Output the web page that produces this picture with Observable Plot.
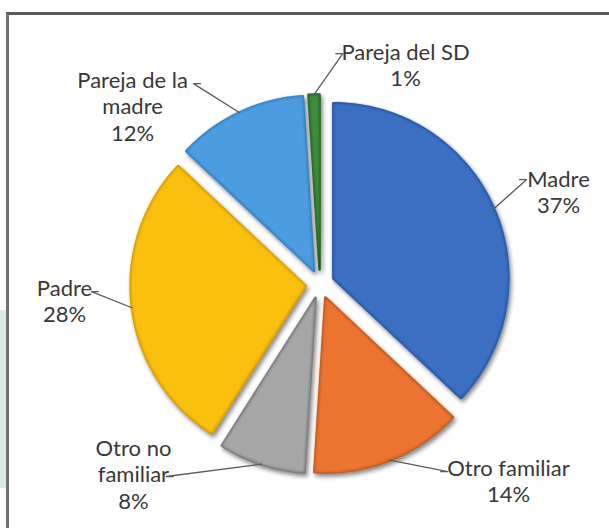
<!DOCTYPE html>
<html><head><meta charset="utf-8">
<script src="https://cdn.jsdelivr.net/npm/d3@7"></script>
<script src="https://cdn.jsdelivr.net/npm/@observablehq/plot@0.6"></script>
<style>
body{margin:0;background:#fff;}
#wrap{position:relative;width:609px;height:528px;overflow:hidden;}
#teal{position:absolute;left:0;top:310px;width:7px;height:178px;background:#d6ebe8;}
#frame{position:absolute;left:6px;top:12px;right:-10px;bottom:-10px;border-left:3px solid #707070;border-top:3px solid #5a5a5a;background:#fff;}
#chart{position:absolute;left:0;top:0;}
</style>
</head><body>
<div id="wrap"><div id="teal"></div><div id="frame"></div><div id="chart"></div></div>
<script>
// ---- data ----
const categories = ["Madre", "Otro familiar", "Otro no familiar", "Padre", "Pareja de la madre", "Pareja del SD"];
const percents = [37, 14, 8, 28, 12, 1];
const labelLines = [["Madre", "37%"], ["Otro familiar", "14%"], ["Otro no", "familiar", "8%"], ["Padre", "28%"], ["Pareja de la", "madre", "12%"], ["Pareja del SD", "1%"]];
const fills = ["#3b6fc2", "#ea7430", "#a6a6a6", "#fbbf0e", "#4b9de0", "#3c8c3c"];
const rims  = ["#24509a", "#b2541c", "#6a6a6a", "#c69400", "#2f78b8", "#225a22"];

// ---- layout (pie units: radius = 1, y downward) ----
const W = 609, H = 528, CX = 319.5, CY = 283.5, R = 175;
const EXPLODE = 14.5 / R;
// label: text centre of first line, leader start next to text
const labelLayout = [
  {tx: 1.363, ty: -0.603, lx: 1.140, ly: -0.596, side: -1},
  {tx: 1.077, ty: 1.049, lx: 0.690, ly: 1.072, side: -1},
  {tx: -1.066, ty: 0.934, lx: -0.838, ly: 1.100, side: 1},
  {tx: -1.46, ty: 0.02, lx: -1.266, ly: 0.043, side: 1},
  {tx: -1.071, ty: -1.169, lx: -0.683, ly: -1.145, side: 1},
  {tx: 0.489, ty: -1.329, lx: 0.090, ly: -1.317, side: -1}
];
const LINE_H = 26.4 / R;

const arcs = d3.pie().sort(null).value(d => d)(percents);
const slicePts = [];
const leaderPts = [];
const labels = [];
arcs.forEach((a, i) => {
  const mid = (a.startAngle + a.endAngle) / 2;
  const ox = EXPLODE * Math.sin(mid), oy = -EXPLODE * Math.cos(mid);
  const name = categories[i];
  slicePts.push({name, i, x: ox, y: oy});
  const n = Math.max(2, Math.ceil((a.endAngle - a.startAngle) / (Math.PI / 180)));
  for (let k = 0; k <= n; k++) {
    const t = a.startAngle + (a.endAngle - a.startAngle) * k / n;
    slicePts.push({name, i, x: ox + Math.sin(t), y: oy - Math.cos(t)});
  }
  const L = labelLayout[i];
  leaderPts.push({name, x: ox + Math.sin(mid), y: oy - Math.cos(mid)});
  leaderPts.push({name, x: L.lx - L.side * 0.04, y: L.ly});
  leaderPts.push({name, x: L.lx, y: L.ly});
  const lines = labelLines[i];
  labels.push({name, text: lines.join("\n"), x: L.tx, y: L.ty + (lines.length - 1) * LINE_H / 2});
});

const chart = Plot.plot({
  width: W, height: H, margin: 0,
  style: {background: "transparent"},
  x: {domain: [-CX / R, (W - CX) / R], range: [0, W], axis: null},
  y: {domain: [-CY / R, (H - CY) / R], range: [0, H], axis: null},
  marks: [
    Plot.line(slicePts, {x: "x", y: "y", z: "name", curve: "linear-closed",
      fill: d => rims[d.i], stroke: d => rims[d.i], strokeWidth: 2.5, strokeLinejoin: "round",
      imageFilter: "drop-shadow(2px 3px 2px rgba(0,0,0,0.45))"}),
    Plot.line(slicePts, {x: "x", y: "y", z: "name", curve: "linear-closed",
      fill: d => fills[d.i], stroke: "none",
      imageFilter: "blur(1.6px)"}),
    Plot.line(leaderPts, {x: "x", y: "y", z: "name", stroke: "#5a5a5a", strokeWidth: 1.3}),
    Plot.text(labels, {x: "x", y: "y", text: "text", fontSize: 22, lineHeight: 1.2,
      lineAnchor: "middle", textAnchor: "middle", fill: "#383838",
      fontFamily: "Lato, 'Open Sans', sans-serif"})
  ]
});
document.getElementById("chart").appendChild(chart);
</script>
</body></html>
